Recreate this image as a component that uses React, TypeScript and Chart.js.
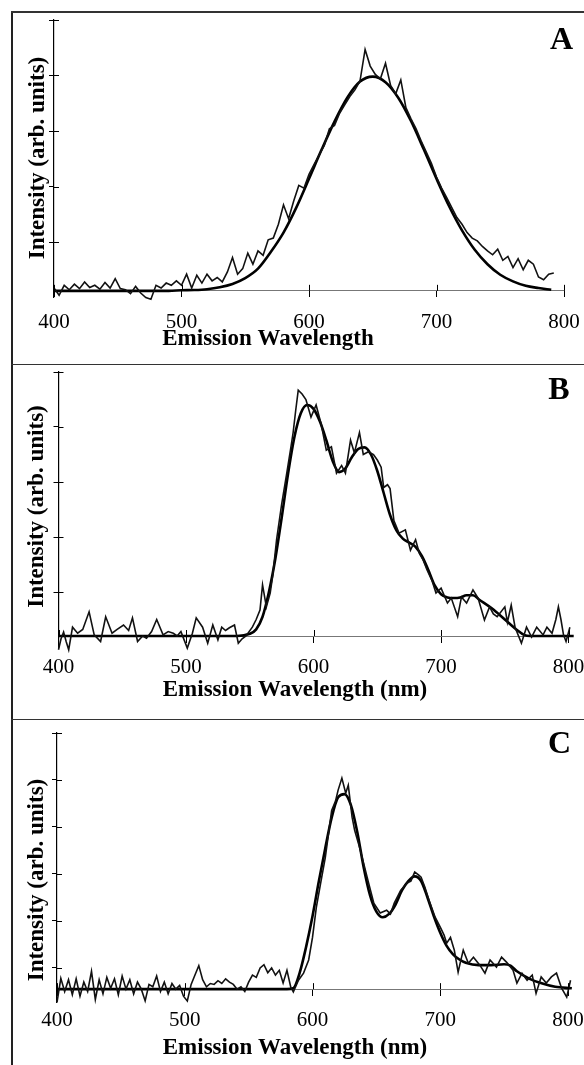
import React, { useEffect, useRef } from 'react';
import { Chart, registerables } from 'chart.js';

Chart.register(...registerables);

// ---------- shared axis ----------
const xTickValues = [400, 500, 600, 700, 800];

// ---------- Panel A ----------
const waveA = [
  400, 404, 408, 412, 416, 420, 424, 428, 432, 436,
  440, 444, 448, 452, 456, 460, 464, 468, 472, 476,
  480, 484, 488, 492, 496, 500, 504, 508, 512, 516,
  520, 524, 528, 532, 536, 540, 544, 548, 552, 556,
  560, 564, 568, 572, 576, 580, 584, 588, 592, 596,
  600, 604, 608, 612, 616, 620, 624, 628, 632, 636,
  640, 644, 648, 652, 656, 660, 664, 668, 672, 676,
  680, 684, 688, 692, 696, 700, 704, 708, 712, 716,
  720, 724, 728, 732, 736, 740, 744, 748, 752, 756,
  760, 764, 768, 772, 776, 780, 784, 788, 792,
];
const intensityA = [
  0.05, -0.08, 0.10, 0.02, 0.12, 0.04, 0.16, 0.06, 0.10, 0.03,
  0.15, 0.05, 0.22, 0.04, 0.02, -0.05, 0.08, -0.04, -0.12, -0.15,
  0.10, 0.05, 0.14, 0.10, 0.18, 0.10, 0.30, 0.05, 0.28, 0.14,
  0.30, 0.18, 0.24, 0.16, 0.34, 0.60, 0.30, 0.40, 0.68, 0.48,
  0.72, 0.64, 0.92, 0.95, 1.20, 1.55, 1.30, 1.62, 1.90, 1.85,
  2.10, 2.28, 2.45, 2.62, 2.92, 2.98, 3.20, 3.35, 3.50, 3.62,
  3.78, 4.35, 4.05, 3.90, 3.82, 4.10, 3.70, 3.55, 3.80, 3.30,
  3.10, 2.92, 2.70, 2.50, 2.30, 2.05, 1.85, 1.68, 1.50, 1.32,
  1.20, 1.05, 0.95, 0.90, 0.80, 0.72, 0.65, 0.75, 0.55, 0.62,
  0.42, 0.58, 0.38, 0.55, 0.48, 0.25, 0.20, 0.30, 0.32,
];
const fitWaveA = [
  400, 490, 500, 510, 520, 530, 540, 550, 560, 570, 580, 590, 600, 610, 620,
  630, 640, 650, 660, 670, 680, 690, 700, 710, 720, 730, 740, 750, 760, 770,
  780, 790,
];
const fitA = [
  0, 0, 0.01, 0.015, 0.03, 0.065, 0.125, 0.23, 0.4, 0.7, 1.05, 1.5, 2.02, 2.55, 3.05,
  3.48, 3.77, 3.86, 3.76, 3.48, 3.06, 2.55, 2.02, 1.52, 1.09, 0.74, 0.48, 0.29, 0.17, 0.09,
  0.05, 0.02,
];
const yTicksA = [4.88, 3.88, 2.88, 1.88, 0.88];

// ---------- Panel B ----------
const waveB = [
  400, 402, 404, 406, 408, 411, 415, 419, 424, 428,
  433, 437, 442, 446, 451, 455, 458, 462, 466, 469,
  473, 477, 482, 486, 490, 493, 496, 501, 505, 508,
  513, 517, 521, 525, 528, 531, 534, 538, 541, 544,
  547, 552, 555, 558, 560, 563, 566, 568, 571, 575,
  579, 582, 584, 586, 588, 591, 594, 598, 602, 606,
  610, 614, 618, 622, 625, 629, 632, 636, 639, 643,
  647, 650, 653, 655, 658, 660, 663, 667, 672, 676,
  680, 683, 686, 689, 693, 696, 700, 705, 708, 713,
  716, 720, 725, 729, 734, 738, 741, 744, 750, 752,
  755, 758, 763, 767, 771, 775, 780, 783, 787, 790,
  792, 794, 796, 798, 801, 804,
];
const intensityB = [
  -0.25, -0.05, 0.07, -0.1, -0.25, 0.16, 0.05, 0.12, 0.44, 0.02,
  -0.1, 0.35, 0.05, 0.12, 0.2, 0.1, 0.33, -0.1, 0.0, -0.04,
  0.08, 0.3, 0.02, 0.08, 0.05, 0.0, 0.08, -0.22, 0.05, 0.33,
  0.16, -0.13, 0.2, -0.07, 0.16, 0.1, 0.15, 0.2, -0.13, -0.05,
  0.0, 0.16, 0.3, 0.47, 0.93, 0.53, 0.78, 1.1, 1.75, 2.4,
  2.96, 3.4, 3.7, 4.1, 4.47, 4.4, 4.3, 3.98, 4.2, 3.85,
  3.38, 3.44, 2.96, 3.1, 2.96, 3.56, 3.33, 3.7, 3.3, 3.35,
  3.3, 3.2, 3.07, 2.7, 2.75, 2.68, 2.1, 1.87, 1.93, 1.56,
  1.75, 1.5, 1.38, 1.2, 1.0, 0.78, 0.87, 0.6, 0.69, 0.35,
  0.71, 0.6, 0.84, 0.69, 0.29, 0.53, 0.4, 0.35, 0.53, 0.25,
  0.56, 0.16, -0.13, 0.16, -0.02, 0.16, 0.02, 0.16, 0.05, 0.3,
  0.53, 0.3, 0.02, -0.1, 0.16, 0.05,
];
const fitWaveB = [
  400, 540, 550, 555, 560, 565, 570, 575, 580, 585, 590, 595, 600, 605, 610,
  615, 620, 625, 630, 635, 640, 645, 650, 655, 660, 665, 670, 675, 680, 685,
  690, 695, 700, 705, 710, 715, 720, 725, 730, 740, 750, 760, 765, 770, 804,
];
const fitB = [
  0, 0, 0.04, 0.12, 0.35, 0.8, 1.4, 2.15, 2.95, 3.62, 4.05, 4.2, 4.13, 3.9, 3.56,
  3.18, 2.98, 3.05, 3.25, 3.4, 3.43, 3.3, 3.0, 2.6, 2.2, 1.92, 1.77, 1.7, 1.62, 1.45,
  1.2, 0.92, 0.76, 0.7, 0.69, 0.7, 0.74, 0.74, 0.66, 0.5, 0.3, 0.1, 0.02, 0, 0,
];
const yTicksB = [4.8, 3.8, 2.8, 1.8, 0.8];

// ---------- Panel C ----------
const waveC = [
  400, 403, 406, 409, 412, 415, 418, 421, 424, 427,
  430, 433, 436, 439, 442, 445, 448, 451, 454, 457,
  460, 463, 466, 469, 472, 475, 478, 481, 484, 487,
  490, 493, 496, 499, 502, 505, 508, 511, 514, 517,
  520, 523, 526, 529, 532, 535, 538, 541, 544, 547,
  550, 553, 556, 559, 562, 565, 568, 571, 574, 577,
  580, 583, 585, 589, 593, 597, 600, 603, 606, 610,
  613, 615, 618, 620, 623, 626, 628, 631, 633, 637,
  640, 644, 648, 653, 658, 661, 664, 669, 674, 677,
  680, 683, 685, 688, 692, 696, 700, 703, 705, 708,
  711, 714, 716, 718, 722, 726, 731, 735, 739, 744,
  748, 752, 757, 760, 764, 768, 772, 775, 779, 783,
  787, 791, 795, 799, 802, 805,
];
const intensityC = [
  -0.28, 0.23, -0.05, 0.2, -0.12, 0.22, -0.15, 0.15, -0.05, 0.38,
  -0.22, 0.2, -0.1, 0.25, 0.02, 0.22, -0.12, 0.28, 0.0, 0.2,
  -0.1, 0.15, 0.0, -0.25, 0.1, 0.05, 0.28, -0.05, 0.15, -0.1,
  0.12, 0.0, 0.08, -0.15, -0.25, 0.1, 0.3, 0.5, 0.2, 0.05,
  0.12, 0.1, 0.18, 0.12, 0.22, 0.15, 0.1, 0.0, 0.05, -0.05,
  0.15, 0.3, 0.25, 0.45, 0.52, 0.35, 0.45, 0.3, 0.4, 0.13,
  0.4, 0.04, -0.06, 0.19, 0.34, 0.62, 1.1, 1.74, 2.2, 2.8,
  3.4, 3.8, 4.0, 4.23, 4.49, 4.17, 4.34, 3.66, 3.38, 3.0,
  2.68, 2.25, 1.83, 1.62, 1.68, 1.6, 1.83, 2.1, 2.26, 2.3,
  2.49, 2.43, 2.38, 2.17, 1.83, 1.53, 1.32, 1.15, 0.98, 1.1,
  0.83, 0.36, 0.6, 0.83, 0.55, 0.68, 0.51, 0.34, 0.62, 0.47,
  0.68, 0.57, 0.4, 0.13, 0.34, 0.19, 0.3, -0.09, 0.26, 0.13,
  0.26, 0.34, 0.02, -0.17, 0.19, 0.02,
];
const fitWaveC = [
  400, 580, 585, 590, 595, 600, 605, 610, 615, 620, 625, 630, 635, 640, 645,
  650, 655, 660, 665, 670, 675, 680, 685, 690, 695, 700, 705, 710, 715, 720,
  730, 740, 750, 755, 760, 770, 780, 790, 803,
];
const fitC = [
  0, 0, 0.02, 0.35, 0.9, 1.55, 2.3, 3.0, 3.65, 4.08, 4.15, 3.92, 3.35, 2.6, 2.0,
  1.65, 1.53, 1.6, 1.8, 2.1, 2.3, 2.4, 2.3, 1.95, 1.55, 1.2, 0.92, 0.74, 0.63, 0.56,
  0.51, 0.51, 0.53, 0.5, 0.38, 0.22, 0.12, 0.05, 0.02,
];
const yTicksC = [5.45, 4.45, 3.45, 2.45, 1.45, 0.45];

const Y_TITLE = 'Intensity (arb. units)';
const SERIF = '"Liberation Serif", "Times New Roman", serif';
const CANVAS_W = 600;

type PanelSpec = {
  top: number;
  height: number;
  areaLeft: number;
  areaRight: number;
  areaTop: number;
  areaBottom: number;
  yMin: number;
  yMax: number;
  yTicks: number[];
  wave: number[];
  intensity: number[];
  fitWave: number[];
  fit: number[];
  letter: string;
  xTitle: string;
  xTitlePos: [number, number];
  yTitlePos: [number, number];
  letterPos: [number, number];
};

const panels: PanelSpec[] = [
  {
    top: 13, height: 350, areaLeft: 41, areaRight: 551, areaTop: 7, areaBottom: 284.5,
    yMin: -0.12, yMax: 4.88, yTicks: yTicksA,
    wave: waveA, intensity: intensityA, fitWave: fitWaveA, fit: fitA,
    letter: 'A', xTitle: 'Emission Wavelength',
    xTitlePos: [255, 326], yTitlePos: [25, 145], letterPos: [548.5, 28],
  },
  {
    top: 366, height: 352, areaLeft: 45.5, areaRight: 555.6, areaTop: 6, areaBottom: 281,
    yMin: -0.2, yMax: 4.8, yTicks: yTicksB,
    wave: waveB, intensity: intensityB, fitWave: fitWaveB, fit: fitB,
    letter: 'B', xTitle: 'Emission Wavelength (nm)',
    xTitlePos: [282, 324], yTitlePos: [24.5, 140.5], letterPos: [546, 25],
  },
  {
    top: 721, height: 344, areaLeft: 44, areaRight: 555, areaTop: 12, areaBottom: 281.3,
    yMin: -0.28, yMax: 5.45, yTicks: yTicksC,
    wave: waveC, intensity: intensityC, fitWave: fitWaveC, fit: fitC,
    letter: 'C', xTitle: 'Emission Wavelength (nm)',
    xTitlePos: [282, 327], yTitlePos: [24, 159], letterPos: [546.5, 24],
  },
];

function Panel({ spec }: { spec: PanelSpec }) {
  const ref = useRef<HTMLCanvasElement>(null);

  useEffect(() => {
    const canvas = ref.current;
    if (!canvas) return;
    const s = spec;

    const decor = {
      id: 'decor',
      afterDraw(chart: any) {
        const { ctx, chartArea, scales } = chart;
        const xs = scales.x;
        const ys = scales.y;
        const base = ys.getPixelForValue(0);
        ctx.save();
        ctx.strokeStyle = '#000';
        ctx.lineWidth = 1;
        ctx.beginPath();
        ys.ticks.forEach((t: any) => {
          const py = Math.round(ys.getPixelForValue(t.value)) + 0.5;
          ctx.moveTo(chartArea.left, py);
          ctx.lineTo(chartArea.left + 5, py);
        });
        xs.ticks.forEach((t: any) => {
          const px = Math.round(xs.getPixelForValue(t.value)) + 0.5;
          ctx.moveTo(px, base - 6);
          ctx.lineTo(px, base);
        });
        ctx.stroke();

        ctx.fillStyle = '#000';
        ctx.textAlign = 'center';
        ctx.textBaseline = 'middle';
        ctx.font = `bold 23px ${SERIF}`;
        ctx.fillText(s.xTitle, s.xTitlePos[0], s.xTitlePos[1]);
        ctx.save();
        ctx.translate(s.yTitlePos[0], s.yTitlePos[1]);
        ctx.rotate(-Math.PI / 2);
        ctx.fillText(Y_TITLE, 0, 0);
        ctx.restore();
        ctx.font = `bold 32px ${SERIF}`;
        ctx.fillText(s.letter, s.letterPos[0], s.letterPos[1]);
        ctx.restore();
      },
    };

    const chart = new Chart(canvas, {
      type: 'line',
      data: {
        datasets: [
          {
            data: s.wave.map((x, i) => ({ x, y: s.intensity[i] })),
            borderColor: '#111',
            borderWidth: 1.6,
            pointRadius: 0,
            tension: 0,
            clip: false as any,
          },
          {
            data: s.fitWave.map((x, i) => ({ x, y: s.fit[i] })),
            borderColor: '#000',
            borderWidth: 2.6,
            pointRadius: 0,
            cubicInterpolationMode: 'monotone',
            clip: false as any,
          },
        ],
      },
      options: {
        responsive: false,
        animation: false,
        events: [],
        layout: {
          padding: {
            left: 0,
            top: s.areaTop,
            right: CANVAS_W - s.areaRight,
            bottom: s.height - s.areaBottom,
          },
        },
        plugins: {
          legend: { display: false },
          tooltip: { enabled: false },
          title: { display: false },
        },
        scales: {
          x: {
            type: 'linear',
            position: { y: 0 } as any,
            min: 400,
            max: 800,
            afterBuildTicks: (sc: any) => {
              sc.ticks = xTickValues.map((v) => ({ value: v }));
            },
            ticks: {
              padding: 13,
              color: '#000',
              maxRotation: 0,
              autoSkip: false,
              font: { family: SERIF, size: 21 },
            },
            grid: {
              drawOnChartArea: false,
              drawTicks: true,
              tickLength: 6,
              tickColor: '#000',
              color: '#000',
            },
            border: { color: '#777', width: 1 },
          },
          y: {
            type: 'linear',
            position: 'left',
            min: s.yMin,
            max: s.yMax,
            afterBuildTicks: (sc: any) => {
              sc.ticks = s.yTicks.map((v) => ({ value: v }));
            },
            ticks: { display: false },
            grid: {
              drawOnChartArea: false,
              drawTicks: true,
              tickLength: 5,
              tickColor: '#000',
              color: '#000',
            },
            border: { color: '#000', width: 1.2 },
            afterFit: (sc: any) => {
              sc.width = s.areaLeft;
            },
          },
        },
      } as any,
      plugins: [decor],
    });
    return () => chart.destroy();
  }, [spec]);

  return (
    <canvas
      ref={ref}
      width={CANVAS_W}
      height={spec.height}
      style={{ position: 'absolute', left: 13, top: spec.top, width: CANVAS_W, height: spec.height }}
    />
  );
}

export default function App() {
  return (
    <div
      style={{
        position: 'absolute',
        left: 0,
        top: 0,
        width: 584,
        height: 1065,
        background: '#fff',
        overflow: 'hidden',
      }}
    >
      <div style={{ position: 'absolute', left: 11, top: 11, width: 1.5, height: 1054, background: '#222' }} />
      <div style={{ position: 'absolute', left: 11, top: 11, width: 573, height: 1.5, background: '#333' }} />
      <div style={{ position: 'absolute', left: 11, top: 363.5, width: 573, height: 1.5, background: '#333' }} />
      <div style={{ position: 'absolute', left: 11, top: 718.5, width: 573, height: 1.5, background: '#333' }} />
      {panels.map((p) => (
        <Panel key={p.letter} spec={p} />
      ))}
    </div>
  );
}
